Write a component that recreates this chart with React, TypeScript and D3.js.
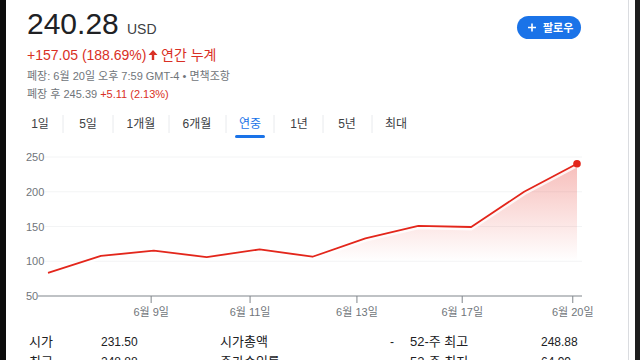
import * as d3 from 'd3'
import React from 'react'

// daily closes, in trading-day order
const closes = [83.23, 107.6, 115.2, 106, 117, 106.5, 133, 151, 149.3, 200, 240.28]
// x-axis ticks sit between trading days (index positions on the axis)
const tickPos = [1.95, 3.82, 5.84, 7.83, 9.92]
const tickLabels = ['6월 9일', '6월 11일', '6월 13일', '6월 17일', '6월 20일']
const yTicks = [50, 100, 150, 200, 250]
const ranges = ['1일', '5일', '1개월', '6개월', '연중', '1년', '5년', '최대']
const activeRange = '연중'
const statLabels = ['시가', '시가총액', '52-주 최고']
const statValues = ['231.50', '-', '248.88']
const statLabels2 = ['최고', '주가수익률', '52-주 최저']
const statValues2 = ['248.88', '-', '64.99']

const FONT = "'Liberation Sans', Arial, 'Noto Sans CJK KR', sans-serif"
const RED = '#e3261b'
const GRAY = '#70757a'

export default function App() {
  const width = 640
  const height = 360

  const x = d3.scaleLinear().domain([0, closes.length - 1]).range([48, 577])
  const y = d3.scaleLinear().domain([50, 250]).range([296, 157])

  const line = d3.line<number>().x((_, i) => x(i)).y((d) => y(d))
  const area = d3.area<number>().x((_, i) => x(i)).y0(y(50)).y1((d) => y(d))

  // tab centres follow the label widths, not an even grid
  const tabCenters = [40, 88, 141, 197, 250, 299, 347, 396]
  const tabSep = [63, 113, 169, 226, 274, 323, 372]
  const activeX = tabCenters[ranges.indexOf(activeRange)]
  const last = closes[closes.length - 1]

  const colX = [29, 220, 410]
  const valX = [101, 390, 541]

  return (
    <svg width={width} height={height} style={{ position: 'fixed', left: 0, top: 0, background: '#fff' }} fontFamily={FONT}>
      <defs>
        <linearGradient id="fillGrad" gradientUnits="userSpaceOnUse" x1="0" x2="0" y1={y(last)} y2={y(100)}>
          <stop offset="0" stopColor={RED} stopOpacity={0.3} />
          <stop offset="1" stopColor={RED} stopOpacity={0} />
        </linearGradient>
      </defs>

      {/* window edges */}
      <rect x={0} y={0} width={6} height={height} fill="#0c0c0c" />
      <rect x={628} y={0} width={1} height={height} fill="#dadce0" />
      <rect x={635} y={0} width={5} height={height} fill="#1e1e1e" />

      {/* header */}
      <text x={27} y={34} fontSize={30} fill="#202124">240.28</text>
      <text x={127} y={34} fontSize={14} fill="#3c4043">USD</text>
      <text x={27} y={60} fontSize={14} fill="#d93025">+157.05 (188.69%)</text>
      <path d="M153,50 L148.5,55 L151.8,55 L151.8,60 L154.2,60 L154.2,55 L157.5,55 Z" fill="#d93025" />
      <text x={161} y={60} fontSize={14} fill="#d93025">연간 누계</text>
      <text x={27} y={80} fontSize={11} fill={GRAY}>폐장: 6월 20일 오후 7:59 GMT-4 • 면책조항</text>
      <text x={27} y={98} fontSize={11} fill={GRAY}>
        폐장 후 245.39 <tspan fill="#d93025">+5.11 (2.13%)</tspan>
      </text>

      {/* follow button */}
      <rect x={517} y={16} width={64} height={23} rx={11.5} fill="#1a73e8" />
      <path d="M532,23.5 V31.5 M528,27.5 H536" stroke="#fff" strokeWidth={1.6} />
      <text x={543} y={31.5} fontSize={11} fontWeight="bold" fill="#fff">팔로우</text>

      {/* range tabs */}
      {ranges.map((r, i) => (
        <text key={r} x={tabCenters[i]} y={128} fontSize={12} textAnchor="middle"
          fill={r === activeRange ? '#1a73e8' : '#3c4043'}>{r}</text>
      ))}
      {tabSep.map((s) => (
        <line key={s} x1={s} x2={s} y1={115} y2={133} stroke="#e8eaed" />
      ))}
      <rect x={activeX - 15} y={135} width={30} height={3} rx={1.5} fill="#1a73e8" />

      {/* grid */}
      {yTicks.slice(1).map((t) => (
        <line key={t} x1={45} x2={582} y1={y(t)} y2={y(t)} stroke="#f3f4f5" />
      ))}
      {yTicks.map((t) => (
        <text key={t} x={26} y={y(t) + 4} fontSize={11} fill={GRAY}>{t}</text>
      ))}

      {/* area + line */}
      <path d={area(closes) ?? ''} fill="url(#fillGrad)" />
      <path d={line(closes) ?? ''} fill="none" stroke="#fff" strokeWidth={4} strokeOpacity={0.8} transform="translate(0,1.5)" />
      <path d={line(closes) ?? ''} fill="none" stroke={RED} strokeWidth={1.8} strokeLinejoin="round" />
      <circle cx={x(closes.length - 1)} cy={y(last)} r={3.8} fill={RED} />

      {/* x axis */}
      <line x1={38} x2={582} y1={y(50)} y2={y(50)} stroke="#80868b" strokeWidth={1.2} />
      {tickPos.map((p, i) => (
        <g key={p} transform={`translate(${x(p)},${y(50)})`}>
          <line y1={0} y2={7} stroke="#80868b" />
          <text y={20} fontSize={11} textAnchor="middle" fill={GRAY}>{tickLabels[i]}</text>
        </g>
      ))}

      {/* stats table, second row runs off the bottom edge as in the screenshot */}
      {[0, 1, 2].map((c) => (
        <g key={c}>
          <text x={colX[c]} y={346} fontSize={13} fill="#202124">{statLabels[c]}</text>
          <text x={valX[c]} y={346} fontSize={12} fill="#202124">{statValues[c]}</text>
          <text x={colX[c]} y={366} fontSize={13} fill="#202124">{statLabels2[c]}</text>
          <text x={valX[c]} y={366} fontSize={12} fill="#202124">{statValues2[c]}</text>
        </g>
      ))}
    </svg>
  )
}
